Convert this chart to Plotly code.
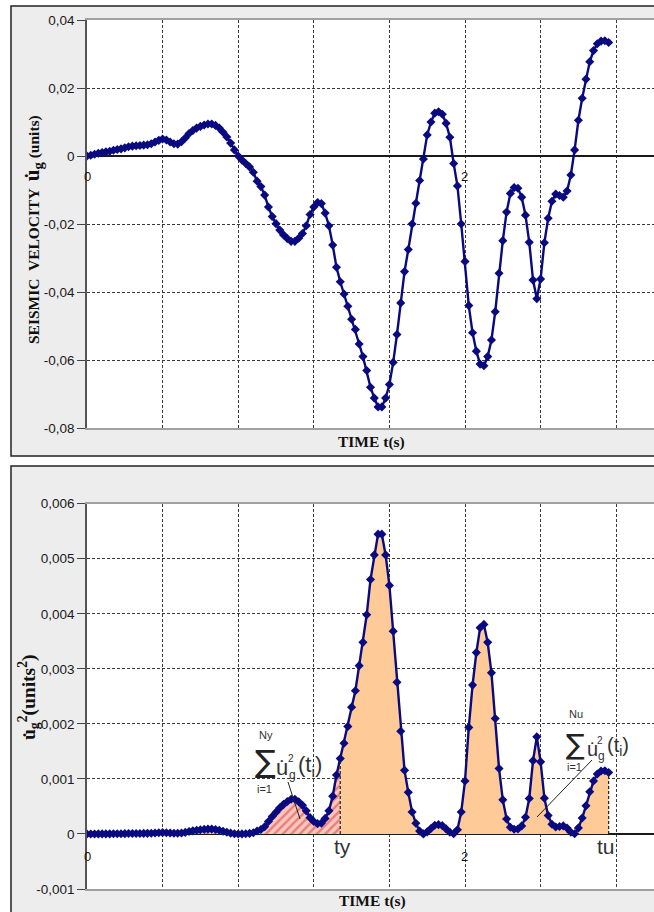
import plotly.graph_objects as go

# ---------------- data ----------------
time_s = [
    0.00, 0.02, 0.04, 0.06, 0.08, 0.10, 0.12, 0.14, 0.16, 0.18,
    0.20, 0.22, 0.24, 0.26, 0.28, 0.30, 0.32, 0.34, 0.36, 0.38,
    0.40, 0.42, 0.44, 0.46, 0.48, 0.50, 0.52, 0.54, 0.56, 0.58,
    0.60, 0.62, 0.64, 0.66, 0.68, 0.70, 0.72, 0.74, 0.76, 0.78,
    0.80, 0.82, 0.84, 0.86, 0.88, 0.90, 0.92, 0.94, 0.96, 0.98,
    1.00, 1.02, 1.04, 1.06, 1.08, 1.10, 1.12, 1.14, 1.16, 1.18,
    1.20, 1.22, 1.24, 1.26, 1.28, 1.30, 1.32, 1.34, 1.36, 1.38,
    1.40, 1.42, 1.44, 1.46, 1.48, 1.50, 1.52, 1.54, 1.56, 1.58,
    1.60, 1.62, 1.64, 1.66, 1.68, 1.70, 1.72, 1.74, 1.76, 1.78,
    1.80, 1.82, 1.84, 1.86, 1.88, 1.90, 1.92, 1.94, 1.96, 1.98,
    2.00, 2.02, 2.04, 2.06, 2.08, 2.10, 2.12, 2.14, 2.16, 2.18,
    2.20, 2.22, 2.24, 2.26, 2.28, 2.30, 2.32, 2.34, 2.36, 2.38,
    2.40, 2.42, 2.44, 2.46, 2.48, 2.50, 2.52, 2.54, 2.56, 2.58,
    2.60, 2.62, 2.64, 2.66, 2.68, 2.70, 2.72, 2.74, 2.76,
]

velocity = [
    0.0000, 0.0002, 0.0005, 0.0008, 0.0010, 0.0012, 0.0014, 0.0017, 0.0019, 0.0021,
    0.0024, 0.0027, 0.0029, 0.0030, 0.0031, 0.0032, 0.0033, 0.0036, 0.0041, 0.0046,
    0.0050, 0.0047, 0.0041, 0.0036, 0.0035, 0.0042, 0.0053, 0.0066, 0.0075, 0.0082,
    0.0087, 0.0091, 0.0094, 0.0094, 0.0090, 0.0082, 0.0070, 0.0056, 0.0038, 0.0018,
    0.0000, -0.0012, -0.0022, -0.0032, -0.0048, -0.0074, -0.0090, -0.0115, -0.0150, -0.0178,
    -0.0199, -0.0218, -0.0232, -0.0243, -0.0251, -0.0251, -0.0242, -0.0228, -0.0205, -0.0172,
    -0.0150, -0.0137, -0.0140, -0.0168, -0.0205, -0.0262, -0.0327, -0.0370, -0.0406, -0.0442,
    -0.0480, -0.0510, -0.0553, -0.0590, -0.0631, -0.0680, -0.0712, -0.0738, -0.0738, -0.0712,
    -0.0672, -0.0607, -0.0525, -0.0432, -0.0340, -0.0275, -0.0200, -0.0139, -0.0072, -0.0009,
    0.0062, 0.0100, 0.0126, 0.0130, 0.0123, 0.0096, 0.0055, -0.0022, -0.0088, -0.0200,
    -0.0310, -0.0440, -0.0520, -0.0574, -0.0612, -0.0617, -0.0590, -0.0541, -0.0458, -0.0345,
    -0.0249, -0.0165, -0.0110, -0.0093, -0.0095, -0.0121, -0.0174, -0.0254, -0.0365, -0.0420,
    -0.0362, -0.0255, -0.0183, -0.0133, -0.0112, -0.0116, -0.0121, -0.0103, -0.0056, 0.0018,
    0.0105, 0.0170, 0.0226, 0.0277, 0.0310, 0.0330, 0.0338, 0.0339, 0.0334,
]

ty_time = 1.34
tu_time = 2.76

y1_tickvals = [-0.08, -0.06, -0.04, -0.02, 0, 0.02, 0.04]
y1_ticktext = ["-0,08", "-0,06", "-0,04", "-0,02", "0", "0,02", "0,04"]
y2_tickvals = [-0.001, 0, 0.001, 0.002, 0.003, 0.004, 0.005, 0.006]
y2_ticktext = ["-0,001", "0", "0,001", "0,002", "0,003", "0,004", "0,005", "0,006"]
x_gridvals = [0, 0.4, 0.8, 1.2, 1.6, 2.0, 2.4, 2.8]
x_labels = ["0", "2"]
x_label_vals = [0, 2]

# bottom panel shows the squared velocity
u2 = [v * v for v in velocity]
i_ty = time_s.index(ty_time)
i_tu = time_s.index(tu_time)

# ---------------- layout helpers ----------------
W, H = 654, 912


def px(x):
    return x / W


def py(y):
    return 1 - y / H


NAVY = "#0a0a80"
fig = go.Figure()

fig.add_trace(go.Scatter(
    x=time_s, y=velocity, mode="lines+markers",
    line=dict(color=NAVY, width=2.4),
    marker=dict(symbol="diamond", size=7, color=NAVY),
    xaxis="x", yaxis="y", showlegend=False, hoverinfo="skip"))

fig.add_trace(go.Scatter(
    x=time_s[:i_ty + 1], y=u2[:i_ty + 1], mode="none", fill="tozeroy",
    fillcolor="#f9c8b8",
    fillpattern=dict(shape="/", fgcolor="#d8304f", bgcolor="#f9c8b8",
                     size=6, solidity=0.4),
    xaxis="x2", yaxis="y2", showlegend=False, hoverinfo="skip"))
fig.add_trace(go.Scatter(
    x=time_s[i_ty:i_tu + 1], y=u2[i_ty:i_tu + 1], mode="none", fill="tozeroy",
    fillcolor="#fecb98",
    xaxis="x2", yaxis="y2", showlegend=False, hoverinfo="skip"))
fig.add_trace(go.Scatter(
    x=time_s, y=u2, mode="lines+markers",
    line=dict(color=NAVY, width=2.4),
    marker=dict(symbol="diamond", size=7, color=NAVY),
    xaxis="x2", yaxis="y2", showlegend=False, hoverinfo="skip"))

grid = dict(showgrid=True, gridcolor="#3a3a3a", gridwidth=1, griddash="3px,2px")
tickfont = dict(family="Liberation Sans, Arial", size=13.5, color="#1a1a1a")

xcommon = dict(range=[0, 3.0], tickmode="array", tickvals=x_gridvals,
               showticklabels=False, ticks="", zeroline=False, automargin=False,
               showline=True, linecolor="#a0a0a0", linewidth=1.5, mirror=True,
               domain=[px(87), 1], **grid)
ycommon = dict(tickmode="array", ticks="outside", ticklen=8, tickcolor="#444",
               tickfont=tickfont, automargin=False,
               showline=True, linecolor="#555", linewidth=1.5,
               zeroline=True, zerolinecolor="#1a1a1a", zerolinewidth=1.5, **grid)

fig.update_layout(
    width=W, height=H, autosize=False,
    margin=dict(l=0, r=0, t=0, b=0, pad=0, autoexpand=False),
    paper_bgcolor="white", plot_bgcolor="rgba(0,0,0,0)",
    xaxis=dict(anchor="y", **xcommon),
    xaxis2=dict(anchor="y2", **xcommon),
    yaxis=dict(domain=[py(428), py(20)], range=[-0.08, 0.04], anchor="x",
               tickvals=y1_tickvals, ticktext=y1_ticktext, **ycommon),
    yaxis2=dict(domain=[py(889), py(503.7)], range=[-0.001, 0.006], anchor="x2",
                tickvals=y2_tickvals, ticktext=y2_ticktext, **ycommon),
)

shapes = []
for (y0, y1, pt, pb) in [(6, 456, 20, 428), (466, 915, 503.7, 889)]:
    shapes.append(dict(type="rect", xref="paper", yref="paper", layer="below",
                       x0=px(11), x1=px(670), y0=py(y1), y1=py(y0),
                       fillcolor="#ededed", line=dict(color="#222", width=1.5)))
    shapes.append(dict(type="rect", xref="paper", yref="paper", layer="below",
                       x0=px(87), x1=px(660), y0=py(pb), y1=py(pt),
                       fillcolor="white", line=dict(width=0)))
for i in (i_ty, i_tu):
    shapes.append(dict(type="line", xref="x2", yref="y2",
                       x0=time_s[i], x1=time_s[i], y0=0, y1=u2[i],
                       line=dict(color="#222", width=1.2, dash="3px,2px")))
shapes.append(dict(type="line", xref="paper", yref="paper",
                   x0=px(288), y0=py(782), x1=px(300), y1=py(819),
                   line=dict(color="#222", width=1)))
shapes.append(dict(type="line", xref="paper", yref="paper",
                   x0=px(592), y0=py(760), x1=px(537), y1=py(817),
                   line=dict(color="#222", width=1)))
fig.update_layout(shapes=shapes)

ann = []


def text(x, y, s, size, family="Liberation Sans, Arial", color="#333", angle=0,
         bold=False, xanchor="center"):
    if bold:
        s = "<b>" + s + "</b>"
    ann.append(dict(xref="paper", yref="paper", x=px(x), y=py(y), text=s,
                    showarrow=False, xanchor=xanchor, yanchor="middle",
                    textangle=angle,
                    font=dict(family=family, size=size, color=color)))


SERIF = "Liberation Serif, Times New Roman"
text(33, 230, "SEISMIC  VELOCITY  <span style='font-size:21px'>u\u0307<sub>g</sub></span> (units)",
     15.5, family=SERIF, color="#111", angle=-90, bold=True)
text(28, 697, "u\u0307<sub>g</sub><sup>2</sup>(units<sup>2</sup>)",
     19.5, family=SERIF, color="#111", angle=-90, bold=True)
text(371, 442, "TIME t(s)", 15.5, family=SERIF, color="#111", bold=True)
text(372, 901, "TIME t(s)", 15.5, family=SERIF, color="#111", bold=True)

for v, lab in zip(x_label_vals, x_labels):
    xp = 87 + v * 189
    text(xp, 177, lab, 13, color="#1a1a1a")
    text(xp, 856, lab, 13, color="#1a1a1a")

text(342, 846, "ty", 21, color="#333")
text(606, 846, "tu", 21, color="#333")

# sum annotations
sums = [
    dict(sx=265, sy=761, top="Ny", top_y=735, low_y=789, ss=31,
         ux=282, uy=767, ts=22, supx=291, supy=758, subx=292, suby=775, px_=296, py_=766),
    dict(sx=575, sy=744, top="Nu", top_y=714, low_y=767, ss=28,
         ux=592, uy=749, ts=20, supx=600, supy=740, subx=601, suby=756, px_=605, py_=746),
]
for s in sums:
    text(s["sx"], s["sy"], "\u2211", s["ss"], family="DejaVu Sans", color="#222")
    text(s["sx"] + 1, s["top_y"], s["top"], 11, color="#333")
    text(s["sx"] - 1, s["low_y"], "i=1", 11, color="#333")
    text(s["ux"], s["uy"], "u\u0307", s["ts"], color="#333")
    text(s["supx"], s["supy"], "2", 10, color="#333")
    text(s["subx"], s["suby"], "g", 12, color="#333")
    text(s["px_"], s["py_"], "(t<sub>i</sub>)", s["ts"], color="#333", xanchor="left")

fig.update_layout(annotations=ann)

fig.write_html("out.html")
